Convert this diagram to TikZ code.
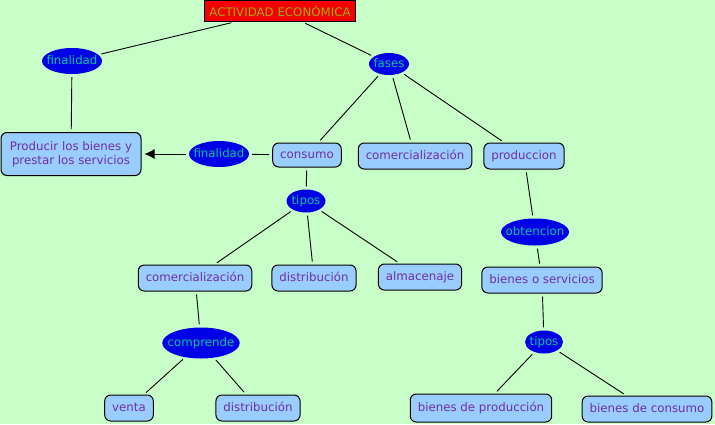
\documentclass[tikz,border=0pt]{standalone}
\usepackage{fontspec}
\setmainfont{DejaVu Sans}
\usetikzlibrary{shapes, arrows.meta}

\definecolor{fondo}{RGB}{200,255,200}
\definecolor{celeste}{RGB}{153,204,255}
\definecolor{morado}{RGB}{112,48,160}
\definecolor{azul}{RGB}{0,0,230}
\definecolor{verdeazul}{RGB}{0,200,150}
\definecolor{oliva}{RGB}{160,175,0}
\definecolor{rojo}{RGB}{245,0,0}

\begin{document}
\begin{tikzpicture}[x=1pt, y=-1pt,
	font=\fontsize{11.8}{14.5}\selectfont,
	caja/.style={draw, rectangle, rounded corners=6pt, fill=celeste, text=morado,
		line width=1pt, inner xsep=7.5pt, inner ysep=0pt, minimum height=26pt},
	concepto/.style={caja, text height=8.8pt, text depth=2.6pt},
	enlace/.style={ellipse, fill=azul, text=verdeazul, inner xsep=-6pt,
		inner ysep=0pt, text height=8.8pt, text depth=2.6pt},
	linea/.style={line width=0.9pt, shorten <=3pt, shorten >=3pt}]

	\fill[fondo] (0,0) rectangle (715,424);
	\useasboundingbox (0,0) rectangle (715,424);

	\node[draw, rectangle, fill=rojo, text=oliva, line width=1pt, inner xsep=5pt,
		inner ysep=0pt, minimum height=21pt] (actividad) at (280,11)
		{ACTIVIDAD ECONÓMICA};

	\node[enlace, minimum width=60pt, minimum height=26pt] (finalidadA) at (72,61)
		{finalidad};
	\node[enlace, minimum width=40pt, minimum height=22pt] (fases)      at (389,64)
		{fases};
	\node[caja, align=center, minimum width=140pt, minimum height=43pt] (producir) at (71,154)
		{Producir los bienes y\\prestar los servicios};
	\node[enlace, minimum width=60pt, minimum height=26pt] (finalidadB) at (219,154)
		{finalidad};
	\node[concepto, minimum height=24pt] (consumo)    at (307,155)
		{consumo};
	\node[concepto] (comercA)    at (415,156)
		{comercialización};
	\node[concepto] (produccion) at (524,156)
		{produccion};
	\node[enlace, minimum width=68pt, minimum height=27pt] (obtencion)  at (535,232)
		{obtencion};
	\node[concepto] (bienes)     at (542,280)
		{bienes o servicios};
	\node[enlace, minimum width=39pt, minimum height=23pt] (tiposA)     at (306,201)
		{tipos};
	\node[concepto] (comercB)    at (195,278)
		{comercialización};
	\node[concepto] (distribA)   at (314,278)
		{distribución};
	\node[concepto] (almacenaje) at (420,277)
		{almacenaje};
	\node[enlace, minimum width=76pt, minimum height=31pt] (comprende)  at (201,343)
		{comprende};
	\node[concepto] (venta)      at (129,408)
		{venta};
	\node[concepto] (distribB)   at (258,408)
		{distribución};
	\node[enlace, minimum width=38pt, minimum height=23pt] (tiposB)     at (544,342)
		{tipos};
	\node[concepto, minimum height=28pt] (bprod)      at (481,408)
		{bienes de producción};
	\node[concepto] (bcons)      at (647,409)
		{bienes de consumo};

	\draw[linea] (actividad) -- (finalidadA);
	\draw[linea] (actividad) -- (fases);
	\draw[linea] (finalidadA) -- (producir);
	\draw[linea, ->, >={Latex[length=10pt, width=10pt]}] (finalidadB) -- (producir);
	\draw[linea] (consumo) -- (finalidadB);
	\draw[linea] (fases) -- (consumo);
	\draw[linea] (fases) -- (comercA);
	\draw[linea] (fases) -- (produccion);
	\draw[linea] (produccion) -- (obtencion);
	\draw[linea] (obtencion) -- (bienes);
	\draw[linea] (bienes) -- (tiposB);
	\draw[linea] (tiposB) -- (bprod);
	\draw[linea] (tiposB) -- (bcons);
	\draw[linea] (consumo) -- (tiposA);
	\draw[linea] (tiposA) -- (comercB);
	\draw[linea] (tiposA) -- (distribA);
	\draw[linea] (tiposA) -- (almacenaje);
	\draw[linea] (comercB) -- (comprende);
	\draw[linea] (comprende) -- (venta);
	\draw[linea] (comprende) -- (distribB);
\end{tikzpicture}
\end{document}
